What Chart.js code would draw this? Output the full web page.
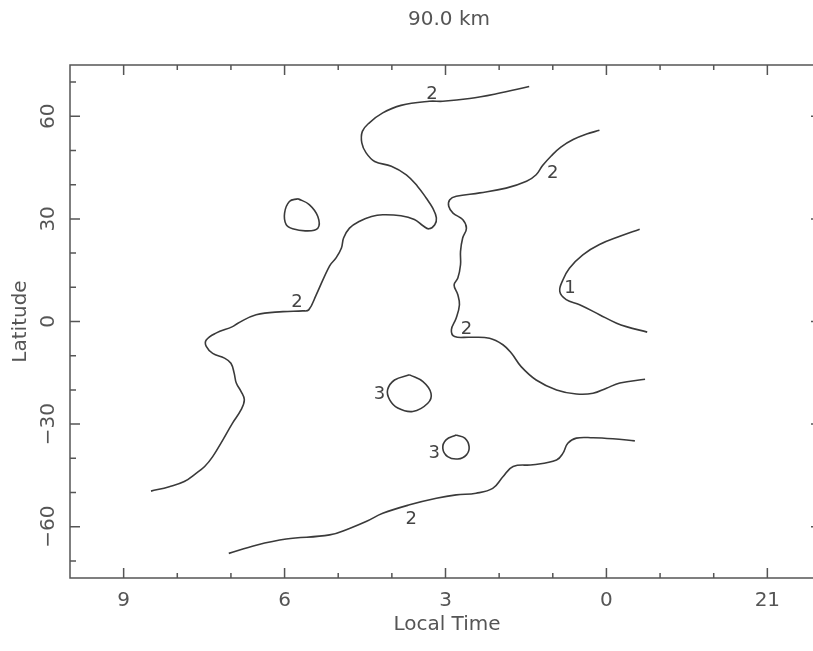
<!DOCTYPE html>
<html>
<head>
<meta charset="utf-8">
<script src="https://cdn.jsdelivr.net/npm/chart.js@4/dist/chart.umd.min.js"></script>
<style>
  html, body { margin: 0; padding: 0; background: #fff; overflow: hidden; }
  #wrap { width: 813px; height: 651px; overflow: hidden; position: relative; }
  canvas { display: block; }
</style>
</head>
<body>
<div id="wrap"><canvas id="c" width="840" height="651" style="width:840px;height:651px"></canvas></div>
<script>
// Local time runs right-to-left; values below 0 are hours of the previous evening (24 + v).
const localTimeTicks = [9, 6, 3, 0, -3];
const localTimeTickLabels = ['9', '6', '3', '0', '21'];
const latitudeTicks = [60, 30, 0, -30, -60];
const latitudeTickLabels = ['60', '30', '0', '\u221230', '\u221260'];

// Contour level 2, western branch (folds down from the north to the southwest)
const west2LT  = [1.44, 2.05, 2.55, 3.05, 3.30, 3.83, 4.17, 4.42, 4.55, 4.56, 4.48, 4.32, 4.01, 3.73, 3.52, 3.36, 3.24, 3.17, 3.20, 3.31, 3.42, 3.58, 3.83, 4.17, 4.38, 4.60, 4.79, 4.90, 4.94, 5.04, 5.16, 5.41, 5.55, 5.66, 6.03, 6.53, 6.87, 6.97, 7.28, 7.46, 7.46, 7.34, 7.12, 7.00, 6.94, 6.90, 6.81, 6.75, 6.81, 6.97, 7.15, 7.34, 7.49, 7.65, 7.87, 8.15, 8.49];
const west2Lat = [68.7, 66.6, 65.2, 64.4, 64.4, 63.2, 61.0, 58.1, 55.6, 52.2, 49.3, 46.8, 45.4, 42.9, 39.5, 36.1, 33.2, 30.3, 28.3, 27.1, 28.0, 29.8, 30.9, 31.2, 30.7, 29.3, 27.3, 24.4, 21.5, 18.6, 16.3, 7.8, 3.4, 3.1, 2.9, 2.0, -0.5, -1.5, -3.4, -5.4, -7.3, -9.3, -10.7, -12.2, -15.1, -18.0, -20.5, -22.9, -25.8, -29.7, -34.6, -39.5, -42.4, -44.4, -46.8, -48.3, -49.6];

// Contour level 2, central branch
const mid2LT  = [0.13, 0.37, 0.62, 0.85, 1.03, 1.19, 1.31, 1.49, 1.87, 2.36, 2.80, 2.92, 2.94, 2.86, 2.68, 2.61, 2.68, 2.72, 2.72, 2.77, 2.84, 2.77, 2.74, 2.80, 2.89, 2.83, 2.55, 2.18, 1.93, 1.77, 1.59, 1.31, 0.93, 0.56, 0.25, 0.00, -0.25, -0.72];
const mid2Lat = [55.9, 54.8, 53.2, 51.0, 48.4, 45.6, 42.9, 41.0, 39.0, 37.6, 36.6, 35.6, 33.7, 31.7, 29.8, 27.3, 24.4, 20.5, 16.6, 12.7, 10.7, 7.8, 4.9, 1.0, -2.4, -4.4, -4.6, -4.9, -6.8, -9.3, -13.2, -17.1, -20.0, -21.2, -21.0, -19.5, -18.0, -16.9];

// Contour level 1
const level1LT  = [-0.62, -0.25, 0.13, 0.44, 0.69, 0.81, 0.87, 0.75, 0.50, 0.13, -0.19, -0.37, -0.76];
const level1Lat = [27.0, 24.9, 22.5, 19.5, 15.6, 12.2, 8.8, 6.4, 4.9, 2.0, -0.5, -1.5, -3.1];

// Contour level 2, southern branch
const south2LT  = [7.04, 6.53, 5.97, 5.16, 4.79, 4.48, 4.17, 3.67, 3.17, 2.80, 2.43, 2.12, 1.93, 1.74, 1.37, 0.93, 0.81, 0.72, 0.56, 0.25, -0.12, -0.53];
const south2Lat = [-67.8, -65.4, -63.6, -62.4, -60.5, -58.5, -56.1, -53.6, -51.7, -50.7, -50.2, -48.8, -45.4, -42.4, -41.9, -40.5, -38.5, -35.6, -34.1, -34.0, -34.3, -34.9];

// Closed contours
const islandNLT  = [5.75, 5.54, 5.38, 5.38, 5.60, 5.85, 5.97, 6.00, 5.91, 5.75];
const islandNLat = [35.9, 34.2, 30.7, 27.3, 26.5, 27.1, 28.3, 31.7, 35.1, 35.9];
const high3aLT   = [3.67, 3.42, 3.27, 3.33, 3.61, 3.89, 4.04, 4.08, 3.95, 3.67];
const high3aLat  = [-15.6, -17.6, -21.0, -23.9, -26.3, -25.3, -22.9, -20.0, -17.1, -15.6];
const high3bLT   = [2.80, 2.64, 2.56, 2.61, 2.77, 2.96, 3.05, 2.99, 2.80];
const high3bLat  = [-33.2, -34.1, -36.6, -39.0, -40.2, -39.5, -37.1, -34.6, -33.2];

// Contour level labels
const levelLabelText = ['2', '2', '2', '2', '1', '3', '3', '2'];
const levelLabelLT   = [3.25, 5.77, 1.00, 2.61, 0.68, 4.23, 3.21, 3.64];
const levelLabelLat  = [66.6, 5.9, 43.7, -1.9, 9.9, -21.0, -38.3, -57.5];

const toPoints = (lt, lat) => lt.map((v, i) => ({ x: v, y: lat[i] }));

const contourSets = [
  [west2LT, west2Lat], [mid2LT, mid2Lat], [level1LT, level1Lat], [south2LT, south2Lat],
  [islandNLT, islandNLat], [high3aLT, high3aLat], [high3bLT, high3bLat]
];

const datasets = contourSets.map(([lt, lat]) => ({
  data: toPoints(lt, lat),
  showLine: true,
  borderColor: '#3a3a3a',
  borderWidth: 1.6,
  tension: 0.4,
  pointRadius: 0,
  fill: false
}));

const FONT = '"DejaVu Sans", "Liberation Sans", sans-serif';
const TEXT = '#555';

const frameAndText = {
  id: 'frameAndText',
  afterDraw(chart) {
    const { ctx, chartArea: a, scales: { x, y } } = chart;
    ctx.save();

    // plot frame
    ctx.strokeStyle = '#555';
    ctx.lineWidth = 1.5;
    ctx.strokeRect(a.left, a.top, a.right - a.left, a.bottom - a.top);

    // inward ticks on all four sides
    ctx.beginPath();
    for (let v = Math.ceil(x.min) + 1; v < x.max; v++) {
      const len = (v % 3 === 0) ? 10 : 5;
      const px = x.getPixelForValue(v);
      ctx.moveTo(px, a.bottom); ctx.lineTo(px, a.bottom - len);
      ctx.moveTo(px, a.top); ctx.lineTo(px, a.top + len);
    }
    for (let v = -70; v <= 70; v += 10) {
      const len = (v % 30 === 0) ? 10 : 6;
      const py = y.getPixelForValue(v);
      ctx.moveTo(a.left, py); ctx.lineTo(a.left + len, py);
      ctx.moveTo(a.right, py); ctx.lineTo(a.right - len, py);
    }
    ctx.stroke();

    ctx.fillStyle = TEXT;
    ctx.font = '20px ' + FONT;

    // x tick labels
    ctx.textAlign = 'center';
    ctx.textBaseline = 'alphabetic';
    localTimeTicks.forEach((v, i) => {
      ctx.fillText(localTimeTickLabels[i], x.getPixelForValue(v), 606);
    });

    // y tick labels, rotated
    latitudeTicks.forEach((v, i) => {
      ctx.save();
      ctx.translate(54, y.getPixelForValue(v));
      ctx.rotate(-Math.PI / 2);
      ctx.fillText(latitudeTickLabels[i], 0, 0);
      ctx.restore();
    });

    // titles
    ctx.fillText('90.0 km', 449, 25);
    ctx.fillText('Local Time', 447, 630);
    ctx.save();
    ctx.translate(26, (a.top + a.bottom) / 2);
    ctx.rotate(-Math.PI / 2);
    ctx.fillText('Latitude', 0, 0);
    ctx.restore();

    // contour level labels
    ctx.font = '18px ' + FONT;
    ctx.fillStyle = '#444';
    ctx.textBaseline = 'middle';
    levelLabelText.forEach((t, i) => {
      ctx.fillText(t, x.getPixelForValue(levelLabelLT[i]), y.getPixelForValue(levelLabelLat[i]) + 1);
    });

    ctx.restore();
  }
};

new Chart(document.getElementById('c').getContext('2d'), {
  type: 'scatter',
  data: { datasets },
  options: {
    responsive: false,
    devicePixelRatio: 1,
    animation: false,
    layout: { padding: { left: 70, top: 65, right: 19, bottom: 73 } },
    plugins: { legend: { display: false }, tooltip: { enabled: false }, title: { display: false } },
    scales: {
      x: { type: 'linear', min: -4, max: 10, reverse: true, display: false },
      y: { type: 'linear', min: -75, max: 75, display: false }
    }
  },
  plugins: [frameAndText]
});
</script>
</body>
</html>
